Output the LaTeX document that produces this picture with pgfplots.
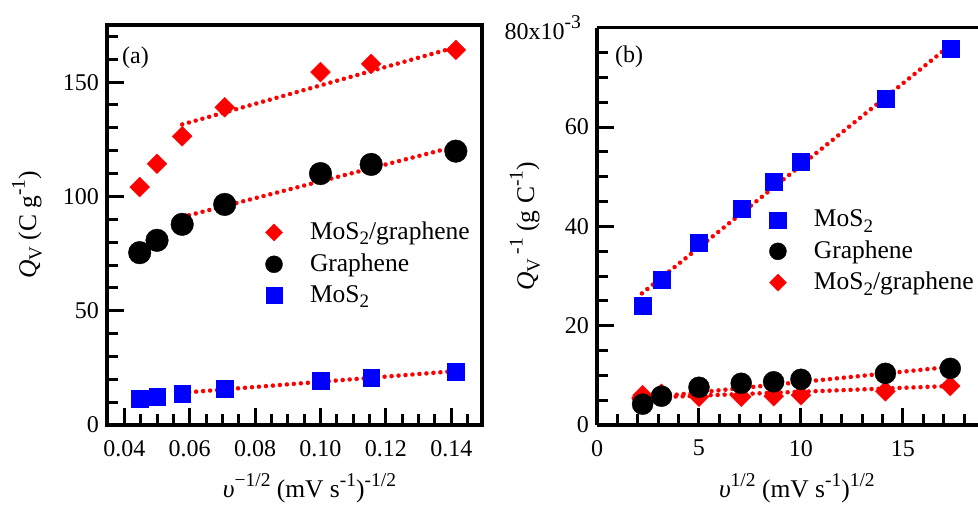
\documentclass[border=0pt]{standalone}
\usepackage{fontspec}
\setmainfont{Liberation Serif}
\usepackage{pgfplots}
\pgfplotsset{compat=1.18}

\newcommand{\sups}[1]{\raisebox{0.45em}{\fontsize{19.5}{20}\selectfont #1}}
\newcommand{\subs}[1]{\raisebox{-0.22em}{\fontsize{19}{20}\selectfont #1}}

\pgfplotsset{
  panel/.style={
    scale only axis,
    anchor=south west,
    clip=false,
    xtick pos=left, ytick pos=left,
    tick align=inside,
    major tick length=17pt,
    minor tick length=11pt,
    tick style={black, line width=3pt},
    axis line style={line width=3.2pt},
    /pgf/number format/assume math mode=true,
    xticklabel style={yshift=-7pt},
    label style={font=\fontsize{25.5}{28}\selectfont},
    legend cell align=left,
    legend style={draw=none, fill=none, inner sep=0pt, outer sep=0pt,
      font=\fontsize{25.5}{28}\selectfont,
      nodes={inner sep=0pt}, cells={anchor=base west}},
    legend image code/.code={
      \draw[#1] plot coordinates {(0pt,6.8pt)};
      \path[draw=none, fill=none] (-10pt,0pt) rectangle (36pt,2pt);},
  },
  fit/.style={red, line width=4.5pt, line cap=round, dash pattern=on 0pt off 7pt},
}

\begin{document}
\fontsize{24}{28}\selectfont
\begin{tikzpicture}

% (a) Q_V against v^-1/2
\begin{axis}[panel,
  at={(107pt,79pt)}, width=375pt, height=400pt,
  xmin=0.0347, xmax=0.1494, ymin=0, ymax=175,
  xtick={0.04,0.06,0.08,0.10,0.12,0.14},
  xticklabels={0.04,0.06,0.08,0.10,0.12,0.14},
  minor xtick={0.045,0.05,0.055,0.065,0.07,0.075,0.085,0.09,0.095,0.105,0.11,0.115,0.125,0.13,0.135,0.145},
  ytick={0,50,100,150},
  minor ytick={10,20,30,40,60,70,80,90,110,120,130,140,160,170},
  xlabel={\textit{υ}\sups{−1/2} (mV s\sups{-1})\sups{-1/2}},
  xlabel style={at={(rel axis cs:0.54,-0.1825)}, anchor=base},
  ylabel={\textit{Q}\subs{V} (C g\sups{-1})},
  ylabel style={at={(rel axis cs:-0.2133,0.5)}, anchor=center, rotate=0},
  legend style={at={(rel axis cs:0.4187,0.5085)}, anchor=north west, row sep=10.5pt},
]
\addlegendimage{only marks, mark=square*, red, mark size=6pt, mark options={rotate=45}}
\addlegendentry{MoS\subs{2}/graphene\rule[-12.5pt]{0pt}{0pt}}
\addlegendimage{only marks, mark=*, black, mark size=8.5pt}
\addlegendentry{Graphene}
\addlegendimage{only marks, mark=square*, blue, mark size=8.3pt}
\addlegendentry{MoS\subs{2}}

\addplot[forget plot, only marks, mark=square*, red, mark size=7pt, mark options={rotate=45}]
coordinates {(0.0447,104.1) (0.05,114.3) (0.0577,126.3) (0.0707,139) (0.1,154.4) (0.1155,158) (0.1414,164.1)};
\addplot[forget plot, only marks, mark=*, black, mark size=11.3pt]
coordinates {(0.0447,75.4) (0.05,80.8) (0.0577,87.8) (0.0707,96.5) (0.1,110) (0.1155,114) (0.1414,119.8)};
\addplot[forget plot, only marks, mark=square*, blue, mark size=8.3pt]
coordinates {(0.0447,11.6) (0.05,12.4) (0.0577,13.8) (0.0707,16) (0.1,19.4) (0.1155,20.7) (0.1414,23.3)};

\addplot[forget plot, fit] coordinates {(0.0577,131.5) (0.1414,165.3)};
\addplot[forget plot, fit] coordinates {(0.0577,91) (0.1414,121.9)};
\addplot[forget plot, fit] coordinates {(0.0577,14.1) (0.1414,23.6)};

\node[anchor=base west, inner sep=0pt] at (rel axis cs:0.04,0.905) {(a)};
\end{axis}

% (b) 1/Q_V against v^1/2
\begin{axis}[
  axis x line*=box, axis y line*=left,
  panel, tick align=inside,
  at={(597pt,79pt)}, width=381pt, height=397.3pt,
  xmin=0, xmax=18.68, ymin=0, ymax=80,
  xtick={0,5,10,15},
  minor xtick={1,2,3,4,6,7,8,9,11,12,13,14,16,17,18},
  ytick={0,20,40,60,80},
  yticklabels={0,20,40,60,80x10\sups{-3}\kern8pt},
  minor ytick={5,10,15,25,30,35,45,50,55,65,70,75},
  xlabel={\textit{υ}\sups{1/2} (mV s\sups{-1})\sups{1/2}},
  xlabel style={at={(rel axis cs:0.5246,-0.1837)}, anchor=base},
  ylabel={\textit{Q}\subs{V}\,\sups{-1} (g C\sups{-1})},
  ylabel style={at={(rel axis cs:-0.189,0.5)}, anchor=center, rotate=0},
  legend style={at={(axis cs:8.38,43.3)}, anchor=north west, row sep=10pt},
]
\addlegendimage{only marks, mark=square*, blue, mark size=8.3pt}
\addlegendentry{MoS\subs{2}\rule[-13pt]{0pt}{0pt}}
\addlegendimage{only marks, mark=*, black, mark size=8.5pt}
\addlegendentry{Graphene}
\addlegendimage{only marks, mark=square*, red, mark size=6pt, mark options={rotate=45}}
\addlegendentry{MoS\subs{2}/graphene}

\addplot[forget plot, only marks, mark=square*, red, mark size=7pt, mark options={rotate=45}]
coordinates {(2.236,6.0) (3.162,6.3) (5,5.7) (7.071,5.7) (8.66,5.8) (10,6.0) (14.14,6.8) (17.32,7.85)};
\addplot[forget plot, only marks, mark=*, black, mark size=10.5pt]
coordinates {(2.236,4.2) (3.162,5.8) (5,7.6) (7.071,8.4) (8.66,8.7) (10,9.2) (14.14,10.4) (17.32,11.4)};
\addplot[forget plot, only marks, mark=square*, blue, mark size=8.5pt]
coordinates {(2.236,24.0) (3.162,29.3) (5,36.8) (7.071,43.6) (8.66,49.0) (10,53.0) (14.14,65.8) (17.32,75.8)};

\addplot[forget plot, fit] coordinates {(2.2,26.5) (17.3,76.4)};
\addplot[forget plot, fit] coordinates {(2.2,5.4) (17.3,11.7)};
\addplot[forget plot, fit] coordinates {(1.8,5.4) (17.3,7.85)};

\node[anchor=base west, inner sep=0pt] at (axis cs:0.88,72.9) {(b)};
\end{axis}

\pgfresetboundingbox
\path[use as bounding box] (0pt,0pt) rectangle (978pt,504pt);
\end{tikzpicture}
\end{document}
